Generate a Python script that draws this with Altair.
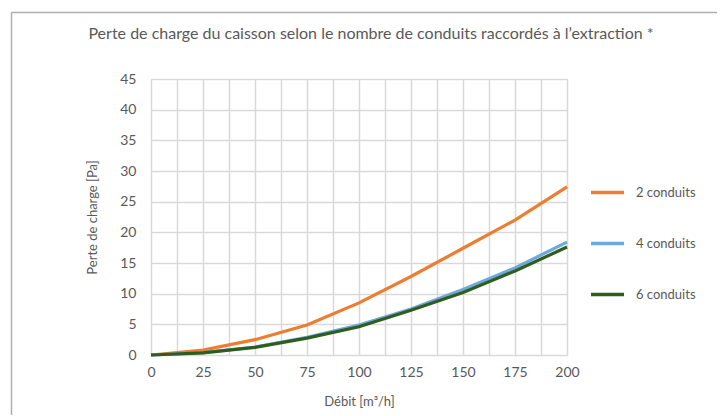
import altair as alt
import pandas as pd

debit = [0, 25, 50, 75, 100, 125, 150, 175, 200]
c2 = [0, 0.8, 2.5, 4.9, 8.5, 12.8, 17.4, 22.0, 27.4]
c4 = [0, 0.4, 1.3, 2.9, 4.9, 7.5, 10.7, 14.2, 18.4]
c6 = [0, 0.35, 1.25, 2.75, 4.6, 7.3, 10.2, 13.7, 17.6]
series = ["2 conduits", "4 conduits", "6 conduits"]
colors = ["#ED7D31", "#6FA8DC", "#2E5E1E"]
title_text = "Perte de charge du caisson selon le nombre de conduits raccordés à l’extraction *"

rows = []
for name, vals in zip(series, [c2, c4, c6]):
    for d, v in zip(debit, vals):
        rows.append({"debit": d, "perte": v, "serie": name})
df = pd.DataFrame(rows)

FONT = "Lato"
GRAY = "#595959"

xgrid = [i * 12.5 for i in range(17)]

lines = alt.Chart(df).mark_line(strokeWidth=3.2).encode(
    x=alt.X("debit:Q",
            scale=alt.Scale(domain=[0, 200], nice=False),
            axis=alt.Axis(title="Débit [m³/h]", values=xgrid,
                          labelExpr="datum.value % 25 == 0 ? datum.label : ''",
                          grid=True, gridColor="#d9d9d9", gridWidth=1.5,
                          domain=False, ticks=False, labelPadding=10,
                          labelFlush=False, labelOverlap=False,
                          labelFontSize=14, labelColor=GRAY, labelFont=FONT,
                          titleFontSize=13, titleColor=GRAY, titleFont=FONT,
                          titleFontWeight="normal", titlePadding=16)),
    y=alt.Y("perte:Q",
            scale=alt.Scale(domain=[0, 45], nice=False),
            axis=alt.Axis(title="Perte de charge [Pa]", values=list(range(0, 50, 5)),
                          grid=True, gridColor="#d9d9d9", gridWidth=1.5,
                          domain=False, ticks=False, labelPadding=15,
                          labelFlush=False,
                          labelFontSize=14, labelColor=GRAY, labelFont=FONT,
                          titleFontSize=13, titleColor=GRAY, titleFont=FONT,
                          titleFontWeight="normal", titlePadding=20)),
    color=alt.Color("serie:N",
                    scale=alt.Scale(domain=series, range=colors),
                    legend=alt.Legend(title=None, orient="none",
                                      legendX=438, legendY=95,
                                      symbolType="stroke", symbolSize=1089,
                                      symbolStrokeWidth=3.5, labelOffset=10,
                                      rowPadding=25, labelFontSize=13,
                                      labelColor=GRAY, labelFont=FONT)),
)

title_df = pd.DataFrame({"t": [title_text]})
title = alt.Chart(title_df).mark_text(
    fontSize=16, font=FONT, color=GRAY, baseline="alphabetic", align="center"
).encode(text="t:N", x=alt.value(220), y=alt.value(-40))

frame_df = pd.DataFrame({"k": [1]})
vline = alt.Chart(frame_df).mark_rule(color="#b0b0b0", strokeWidth=1.5).encode(
    x=alt.value(-139.5), y=alt.value(-66.5), y2=alt.value(400))
hline = alt.Chart(frame_df).mark_rule(color="#b0b0b0", strokeWidth=1.5).encode(
    x=alt.value(-139.5), x2=alt.value(600), y=alt.value(-66.5))

chart = alt.layer(vline, hline, lines, title).properties(
    width=416, height=276,
    padding={"left": 143, "top": 71, "right": 150, "bottom": 60},
    autosize=alt.AutoSizeParams(type="none"),
).configure_view(stroke=None).configure(background="white")

chart.save("out.html", embed_options={"renderer": "svg", "actions": False})
